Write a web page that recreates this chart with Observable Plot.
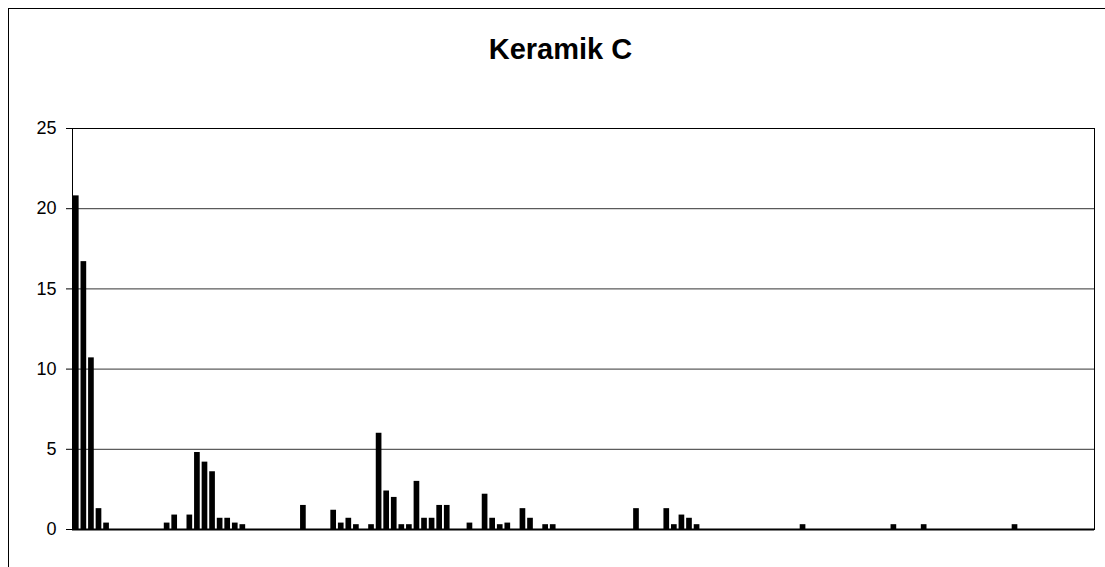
<!DOCTYPE html>
<html>
<head>
<meta charset="utf-8">
<script src="https://cdn.jsdelivr.net/npm/d3@7"></script>
<script src="https://cdn.jsdelivr.net/npm/@observablehq/plot@0.6"></script>
<style>
  html, body { margin: 0; padding: 0; background: #fff; overflow: hidden; }
  #wrap { position: relative; width: 1105px; height: 567px; font-family: "Liberation Sans", Arial, sans-serif; }
  #border { position: absolute; left: 8px; top: 8px; width: 1200px; height: 700px; border: 1px solid #000; box-sizing: border-box; pointer-events: none; }
  #title { position: absolute; left: 8px; width: 1105px; top: 32px; text-align: center; font-weight: bold; font-size: 29px; line-height: 34px; color: #000; }
  #chart { position: absolute; left: 0; top: 0; }
</style>
</head>
<body>
<div id="wrap">
  <div id="border"></div>
  <div id="title">Keramik C</div>
  <div id="chart"></div>
</div>
<script>
// number of categories along the x axis (no labels shown in the original)
const categoryCount = 135;
// category index of every non-empty bar
const bins = [0,1,2,3,4,12,13,15,16,17,18,19,20,21,22,30,34,35,36,37,39,40,41,42,43,44,45,46,47,48,49,52,54,55,56,57,59,60,62,63,74,78,79,80,81,82,96,108,112,124];
// bar heights
const values = [20.8,16.7,10.7,1.3,0.4,0.4,0.9,0.9,4.8,4.2,3.6,0.7,0.7,0.4,0.3,1.5,1.2,0.4,0.7,0.3,0.3,6.0,2.4,2.0,0.3,0.3,3.0,0.7,0.7,1.5,1.5,0.4,2.2,0.7,0.3,0.4,1.3,0.7,0.3,0.3,1.3,1.3,0.3,0.9,0.7,0.3,0.3,0.3,0.3,0.3];
// y-axis ticks
const yTicks = [0, 5, 10, 15, 20, 25];
const gridTicks = [5, 10, 15, 20];

const data = bins.map((b, i) => ({bin: b, value: values[i]}));

const chart = Plot.plot({
  width: 1105,
  height: 567,
  marginLeft: 72,
  marginRight: 11,
  marginTop: 128,
  marginBottom: 38,
  style: {fontFamily: '"Liberation Sans", Arial, sans-serif', background: "transparent", overflow: "visible"},
  x: {type: "band", domain: d3.range(categoryCount), paddingInner: 0.25, paddingOuter: 0.125, round: false, axis: null},
  y: {domain: [0, 25]},
  marks: [
    Plot.gridY(gridTicks, {stroke: "#000", strokeOpacity: 0.8, strokeWidth: 1}),
    Plot.frame({stroke: "#000", strokeWidth: 1}),
    Plot.barY(data, {x: "bin", y: "value", fill: "#000"}),
    Plot.ruleY([0], {stroke: "#000", strokeWidth: 2}),
    Plot.axisY({ticks: yTicks, tickSize: 6, tickPadding: 10, fontSize: 18, stroke: "#000", color: "#000", label: null, tickFormat: d => String(d)})
  ]
});
document.getElementById("chart").appendChild(chart);
</script>
</body>
</html>
